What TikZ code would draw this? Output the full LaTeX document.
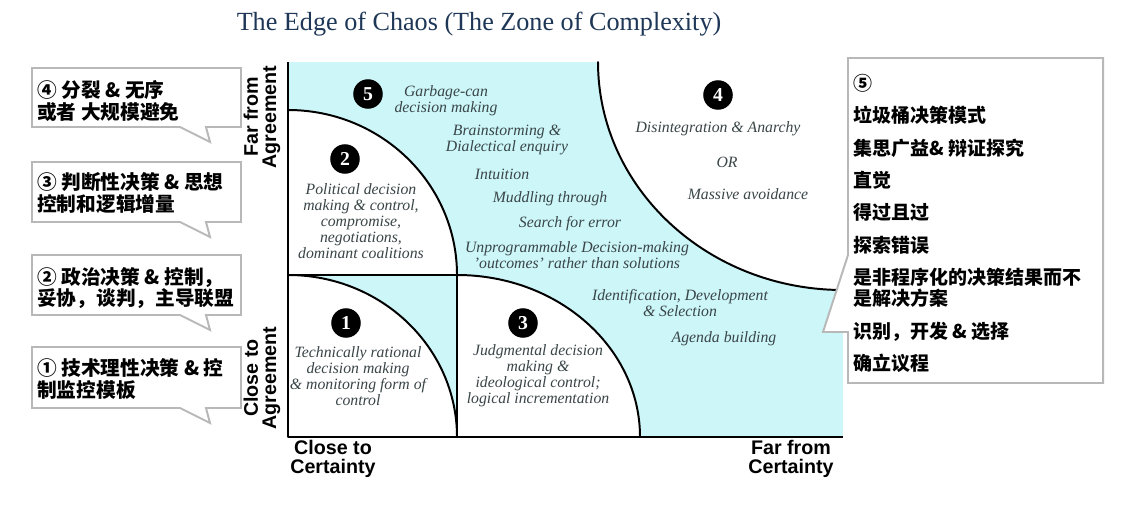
\documentclass[tikz,border=0pt]{standalone}
\usepackage{fontspec}
\setmainfont{Liberation Serif}
\setsansfont{Liberation Sans}
\newfontfamily\cjk{Noto Sans CJK SC}
\definecolor{zone}{HTML}{CCF6F8}
\definecolor{titleblue}{HTML}{1E3756}
\definecolor{plotgray}{HTML}{3A4548}
\definecolor{boxgray}{HTML}{B8B8B8}
\tikzset{
  zonetext/.style={align=center, text=plotgray, inner sep=0pt,
    font=\itshape\fontsize{11.2}{11.4}\selectfont},
  badge/.style={circle, fill=black, text=white, minimum size=21pt, inner sep=0pt,
    font=\bfseries\fontsize{14}{14}\selectfont},
  axislabel/.style={align=center, inner sep=0pt,
    font=\sffamily\bfseries\fontsize{14}{13}\selectfont},
  callout/.style={draw=boxgray, line width=1.4pt, fill=white, line join=miter},
  callouttext/.style={align=left, anchor=west, inner sep=0pt,
    font=\cjk\bfseries\fontsize{14}{15.6}\selectfont},
  edge/.style={line width=1.4pt},
}
\begin{document}
\begin{tikzpicture}[x=0.025cm, y=-0.025cm, line join=round, line cap=round]
\useasboundingbox (0,0) rectangle (1129,513);
\node[text=titleblue, font=\fontsize{18.6}{18.6}\selectfont] (title) at (479,24)
  {The Edge of Chaos (The Zone of Complexity)};
% zone of complexity and the four regions
\fill[zone] (288,62) rectangle (843,437);
\fill[white] (288,275) -- (288,110) arc[start angle=-90, end angle=0, x radius=169, y radius=165] -- cycle;
\fill[white] (288,437) -- (288,275) arc[start angle=-90, end angle=0, x radius=169, y radius=162] -- cycle;
\fill[white] (457,437) -- (457,275) arc[start angle=-90, end angle=0, x radius=183, y radius=162] -- cycle;
\fill[white] (843,62) -- (598,62) arc[start angle=180, end angle=90, x radius=245, y radius=228] -- cycle;
\draw[edge] (288,110) arc[start angle=-90, end angle=0, x radius=169, y radius=165];
\draw[edge] (288,275) arc[start angle=-90, end angle=0, x radius=169, y radius=162];
\draw[edge] (457,275) arc[start angle=-90, end angle=0, x radius=183, y radius=162];
\draw[edge] (598,62) arc[start angle=180, end angle=90, x radius=245, y radius=228];
\draw[edge] (288,275) -- (457,275) -- (457,437);
\draw[line width=2pt, line cap=butt] (288,62) -- (288,437) -- (843,437);
% numbered badges
\node[badge] (n5) at (368,94) {5};
\node[badge] (n2) at (345,159) {2};
\node[badge] (n1) at (346,323) {1};
\node[badge] (n3) at (523,323) {3};
\node[badge] (n4) at (718,95) {4};
% texts in the regions
\node[zonetext] (garbage) at (446,101) {Garbage-can\\decision making};
\node[zonetext] (brain) at (507,140) {Brainstorming \&\\Dialectical enquiry};
\node[zonetext] (intuition) at (502,174) {Intuition};
\node[zonetext] (muddle) at (550,199) {Muddling through};
\node[zonetext] (search) at (570,224) {Search for error};
\node[zonetext] (unprog) at (577,255) {Unprogrammable Decision-making\\'outcomes' rather than solutions};
\node[zonetext] (ident) at (680,303) {Identification, Development\\\& Selection};
\node[zonetext] (agenda) at (724,339) {Agenda building};
\node[zonetext] (disint) at (718,129) {Disintegration \& Anarchy};
\node[zonetext] (or) at (727,162) {OR};
\node[zonetext] (massive) at (748,194) {Massive avoidance};
\node[zonetext] (political) at (361,221) {Political decision\\making \& control,\\compromise,\\negotiations,\\dominant coalitions};
\node[zonetext] (technical) at (358,376) {Technically rational\\decision making\\\& monitoring form of\\control};
\node[zonetext] (judgmental) at (538,376) {Judgmental decision\\making \&\\ideological control;\\logical incrementation};
% axis labels
\node[axislabel, rotate=90] (farA) at (262,117) {Far from\\Agreement};
\node[axislabel, rotate=90] (closeA) at (262,378) {Close to\\Agreement};
\node[axislabel] (closeC) at (333,459) {Close to\\Certainty};
\node[axislabel] (farC) at (791,459) {Far from\\Certainty};
% callouts
\draw[callout] (32,68) -- (241,68) -- (241,127) -- (206,127) -- (210,142) -- (180,127) -- (32,127) -- cycle;
\draw[callout] (32,162) -- (241,162) -- (241,222) -- (206,222) -- (210,237) -- (180,222) -- (32,222) -- cycle;
\draw[callout] (32,255) -- (241,255) -- (241,315) -- (206,315) -- (210,330) -- (180,315) -- (32,315) -- cycle;
\draw[callout] (32,347) -- (241,347) -- (241,408) -- (206,408) -- (210,423) -- (180,408) -- (32,408) -- cycle;
\node[callouttext] (c4) at (37,101) {④ 分裂 \& 无序\\或者 大规模避免};
\node[callouttext] (c3) at (37,193) {③ 判断性决策 \& 思想\\控制和逻辑增量};
\node[callouttext] (c2) at (37,288) {② 政治决策 \& 控制，\\妥协，谈判，主导联盟};
\node[callouttext] (c1) at (37,379) {① 技术理性决策 \& 控\\制监控模板};
\draw[callout] (848,58) -- (1103,58) -- (1103,383) -- (848,383) -- (848,332) -- (823,332) -- (848,255) -- cycle;
\node[callouttext, anchor=north west, font=\cjk\bfseries\fontsize{13.5}{15}\selectfont] (c5) at (853,74)
  {⑤\\[8pt]垃圾桶决策模式\\[8pt]集思广益\& 辩证探究\\[8pt]直觉\\[8pt]得过且过\\[8pt]探索错误\\[8pt]是非程序化的决策结果而不\\是解决方案\\[8pt]识别，开发 \& 选择\\[8pt]确立议程};
\end{tikzpicture}
\end{document}
